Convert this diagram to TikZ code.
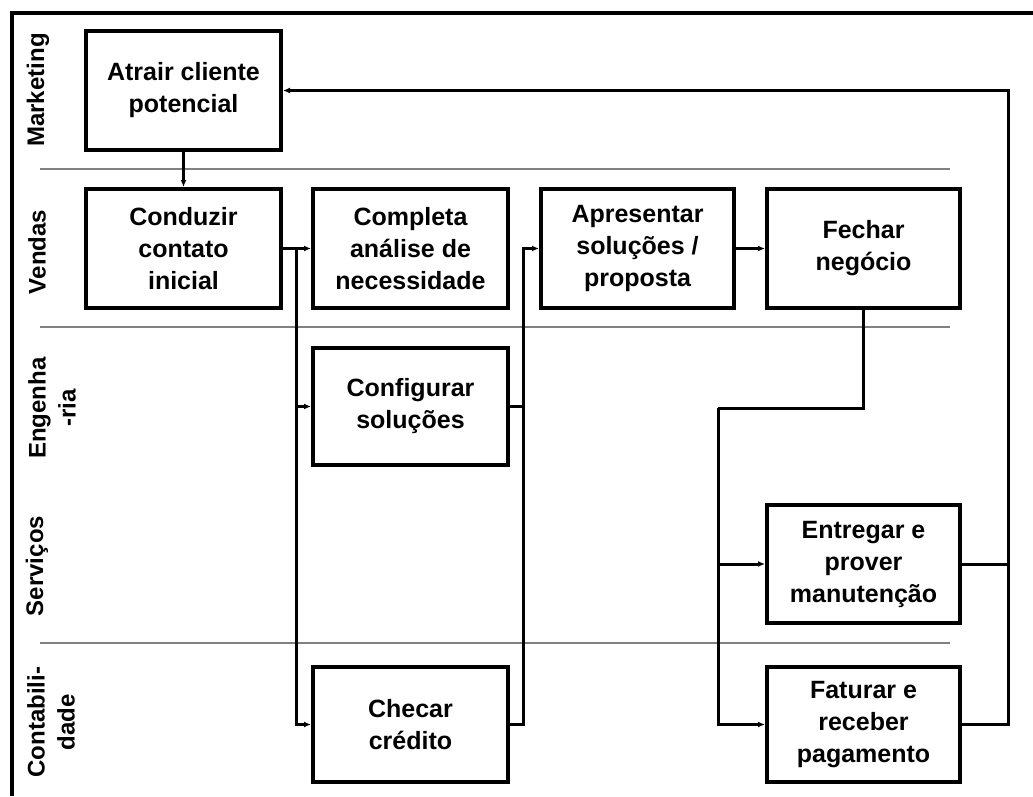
\documentclass[tikz,border=0pt]{standalone}
\usepackage{fontspec}
\setmainfont{Liberation Sans}
\usetikzlibrary{arrows.meta}
\begin{document}
\begin{tikzpicture}[x=1pt,y=-1pt,
  box/.style={draw=black, line width=4pt, fill=white, align=center,
    inner sep=2pt, font=\fontsize{25}{32}\selectfont\bfseries},
  lane/.style={rotate=90, align=center, inner sep=0pt,
    font=\fontsize{24}{30}\selectfont\bfseries},
  sep/.style={draw=black!50, line width=2pt},
  conn/.style={draw=black, line width=3pt},
  arr/.style={conn, -{Latex[length=7pt,width=6pt]}},
  frame/.style={draw=black, line width=4pt}
]
\useasboundingbox (0,0) rectangle (1033,796);
% frame
\draw[frame] (11,13) -- (1033,13);
\draw[frame] (12,11) -- (12,796);
% lane separators
\draw[sep] (40,169) -- (950,169);
\draw[sep] (40,327) -- (950,327);
\draw[sep] (40,643) -- (950,643);
% lane labels
\node[lane] (lmkt) at (38,90) {Marketing};
\node[lane] (lven) at (37,252) {Vendas};
\node[lane] (leng) at (52,408) {Engenha\\-ria};
\node[lane] (lser) at (37,566) {Serviços};
\node[lane] (lcon) at (51,722) {Contabili-\\dade};
% boxes
\node[box, minimum width=195pt, minimum height=119pt] (atrair) at (183.5,90.5) {Atrair cliente\\potencial};
\node[box, minimum width=195pt, minimum height=119pt] (conduzir) at (183.5,248.5) {Conduzir\\contato\\inicial};
\node[box, minimum width=195pt, minimum height=119pt] (completa) at (410.5,248.5) {Completa\\análise de\\necessidade};
\node[box, minimum width=193pt, minimum height=119pt] (apresentar) at (637.5,248.5) {Apresentar\\soluções /\\proposta};
\node[box, minimum width=193pt, minimum height=119pt] (fechar) at (863.5,248.5) {Fechar\\negócio};
\node[box, minimum width=195pt, minimum height=117pt] (configurar) at (410.5,406.5) {Configurar\\soluções};
\node[box, minimum width=193pt, minimum height=118pt] (entregar) at (863.5,564) {Entregar e\\prover\\manutenção};
\node[box, minimum width=195pt, minimum height=115pt] (checar) at (410.5,724.5) {Checar\\crédito};
\node[box, minimum width=193pt, minimum height=115pt] (faturar) at (863.5,724.5) {Faturar e\\receber\\pagamento};
% junction coordinates
\coordinate (t1) at (296,248.5);
\coordinate (t2) at (523,248.5);
\coordinate (t3) at (718,408);
\coordinate (t4) at (1008,90.5);
% connectors
\draw[arr] (atrair) -- (conduzir);
\draw[arr] (conduzir.east) -- (completa.west);
\draw[arr] (t1) |- (configurar.west);
\draw[arr] (t1) |- (checar.west);
\draw[conn] (configurar.east) -- (configurar.east -| t2);
\draw[arr] (checar.east) -| (t2) -- (apresentar.west);
\draw[arr] (apresentar.east) -- (fechar.west);
\draw[conn] (fechar.south) |- (t3);
\draw[arr] (t3) |- (entregar.west);
\draw[arr] (t3) |- (faturar.west);
\draw[conn] (entregar.east) -- (entregar.east -| t4);
\draw[arr] (faturar.east) -| (t4) -- (atrair.east);
\end{tikzpicture}
\end{document}
